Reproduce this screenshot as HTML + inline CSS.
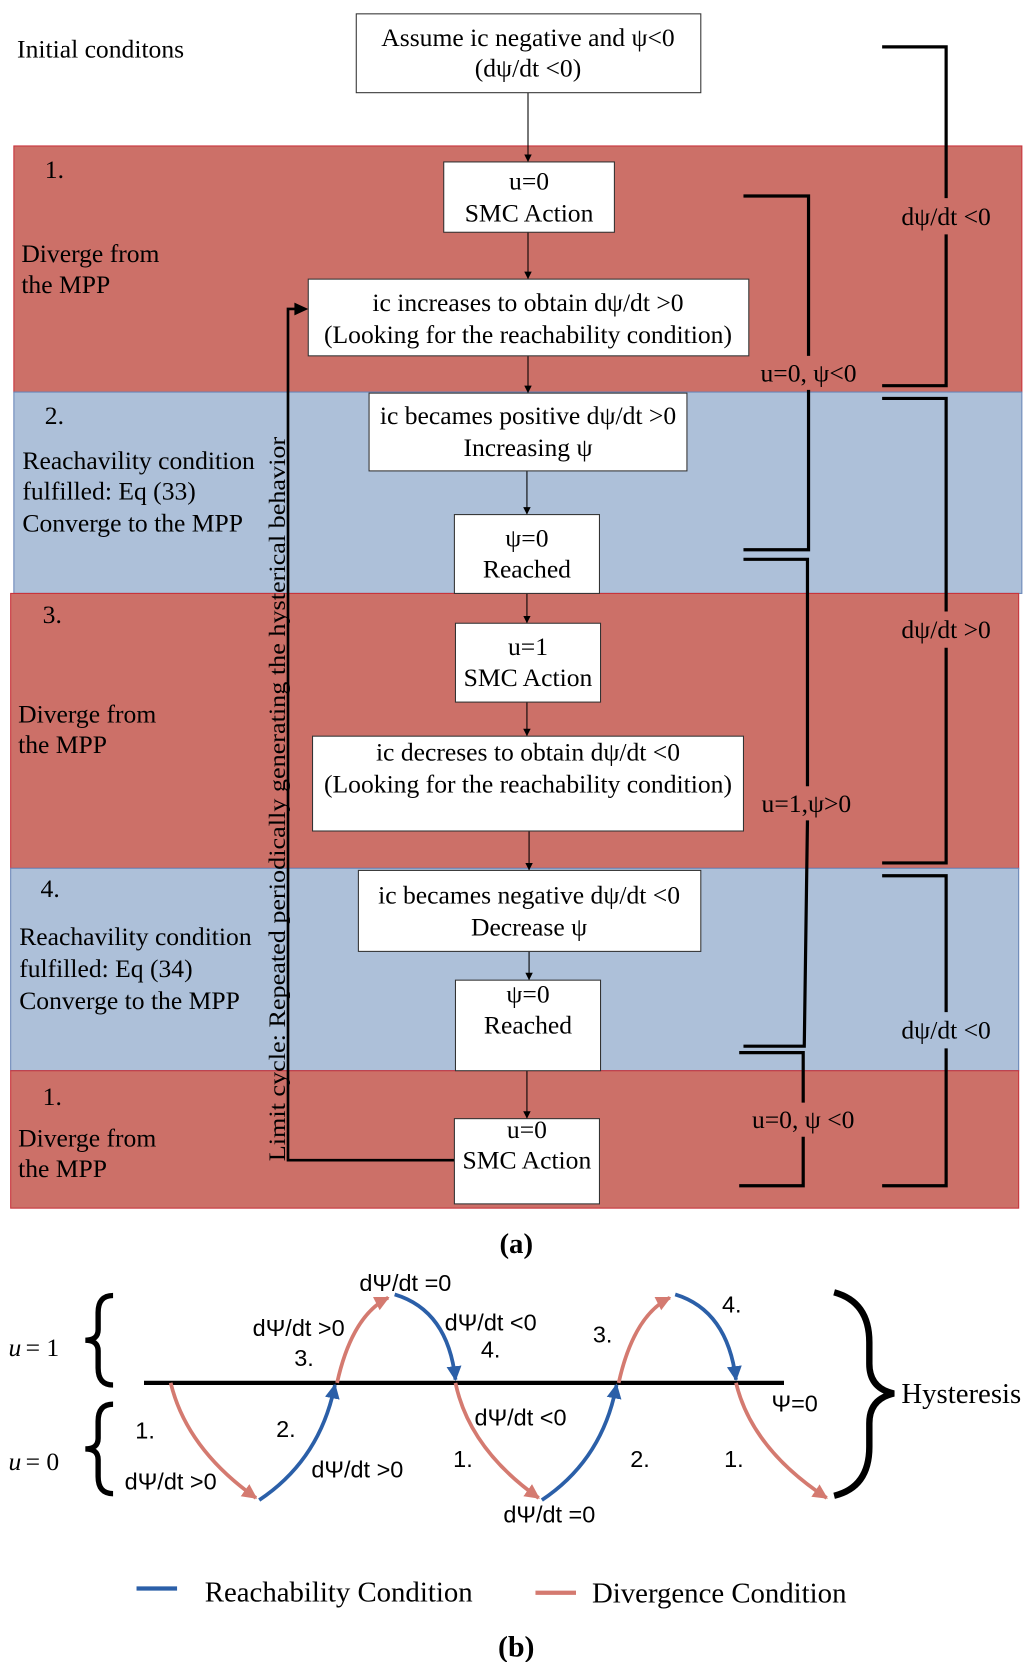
<!DOCTYPE html>
<html><head><meta charset="utf-8"><style>html,body{margin:0;padding:0;background:#fff}svg{display:block}</style></head><body>
<svg width="1024" height="1662" viewBox="0 0 960 1560" preserveAspectRatio="none" xmlns="http://www.w3.org/2000/svg" font-family="'Liberation Serif', serif">
<defs>
<marker id="ak" viewBox="0 0 10 10" refX="10" refY="5" markerWidth="7" markerHeight="9" orient="auto" markerUnits="userSpaceOnUse"><path d="M0,0L10,5L0,10z" fill="#000"/></marker>
<marker id="ab" viewBox="0 0 10 10" refX="9" refY="5" markerWidth="14" markerHeight="16" orient="auto" markerUnits="userSpaceOnUse"><path d="M0,0L10,5L0,10z" fill="#2b5fa8"/></marker>
<marker id="ar" viewBox="0 0 10 10" refX="9" refY="5" markerWidth="14" markerHeight="16" orient="auto" markerUnits="userSpaceOnUse"><path d="M0,0L10,5L0,10z" fill="#d47a70"/></marker>
</defs>
<rect x="13" y="137" width="945" height="231" fill="#cc7068" stroke="#c8323a" stroke-width="1"/>
<rect x="13" y="368" width="945" height="189" fill="#adc0d9" stroke="#6a86b8" stroke-width="1"/>
<rect x="10" y="557" width="945" height="258" fill="#cc7068" stroke="#c8323a" stroke-width="1"/>
<rect x="10" y="815" width="945" height="190" fill="#adc0d9" stroke="#6a86b8" stroke-width="1"/>
<rect x="10" y="1005" width="945" height="129" fill="#cc7068" stroke="#c8323a" stroke-width="1"/>

<g font-size="24" fill="#000">
<text x="16" y="54">Initial conditons</text>
<text x="42" y="167">1.</text>
<text x="20" y="246">Diverge from</text><text x="20" y="275">the MPP</text>
<text x="42" y="398">2.</text>
<text x="21" y="440">Reachavility condition</text><text x="21" y="469">fulfilled: Eq (33)</text><text x="21" y="499">Converge to the MPP</text>
<text x="40" y="585">3.</text>
<text x="17" y="678">Diverge from</text><text x="17" y="707">the MPP</text>
<text x="38" y="842">4.</text>
<text x="18" y="887">Reachavility condition</text><text x="18" y="917">fulfilled: Eq (34)</text><text x="18" y="947">Converge to the MPP</text>
<text x="40" y="1037">1.</text>
<text x="17" y="1076">Diverge from</text><text x="17" y="1105">the MPP</text>
</g>

<polyline points="426,1089 270,1089 270,290 284,290" fill="none" stroke="#000" stroke-width="2.5"/>
<path d="M289,290L276,284L276,296z" fill="#000"/>
<text transform="translate(267,1090) rotate(-90)" font-size="22" textLength="680" lengthAdjust="spacingAndGlyphs">Limit cycle: Repeated periodically generating the hysterical behavior</text>

<g stroke="#000" stroke-width="1" marker-end="url(#ak)">
<line x1="495" y1="87" x2="495" y2="152"/>
<line x1="495" y1="218" x2="495" y2="262"/>
<line x1="495" y1="334" x2="495" y2="369"/>
<line x1="494" y1="442" x2="494" y2="483"/>
<line x1="494" y1="557" x2="494" y2="585"/>
<line x1="494" y1="659" x2="494" y2="691"/>
<line x1="496" y1="780" x2="496" y2="817"/>
<line x1="496" y1="893" x2="496" y2="920"/>
<line x1="494" y1="1005" x2="494" y2="1050"/>
</g>

<g fill="#fff" stroke="#333" stroke-width="1">
<rect x="334" y="13" width="323" height="74"/>
<rect x="416" y="152" width="160" height="66"/>
<rect x="289" y="262" width="413" height="72"/>
<rect x="346" y="369" width="298" height="73"/>
<rect x="426" y="483" width="136" height="74"/>
<rect x="427" y="585" width="136" height="74"/>
<rect x="293" y="691" width="404" height="89"/>
<rect x="336" y="817" width="321" height="76"/>
<rect x="427" y="920" width="136" height="85"/>
<rect x="426" y="1050" width="136" height="80"/>
</g>
<g font-size="24" text-anchor="middle">
<text x="495" y="43">Assume ic negative and ψ&lt;0</text><text x="495" y="72">(dψ/dt &lt;0)</text>
<text x="496" y="178">u=0</text><text x="496" y="208">SMC Action</text>
<text x="495" y="292">ic increases to obtain dψ/dt &gt;0</text><text x="495" y="322">(Looking for the reachability condition)</text>
<text x="495" y="398">ic becames positive dψ/dt &gt;0</text><text x="495" y="428">Increasing ψ</text>
<text x="494" y="513">ψ=0</text><text x="494" y="542">Reached</text>
<text x="495" y="615">u=1</text><text x="495" y="644">SMC Action</text>
<text x="495" y="714">ic decreses to obtain dψ/dt &lt;0</text><text x="495" y="744">(Looking for the reachability condition)</text>
<text x="496" y="848">ic becames negative dψ/dt &lt;0</text><text x="496" y="878">Decrease ψ</text>
<text x="495" y="941">ψ=0</text><text x="495" y="970">Reached</text>
<text x="494" y="1068">u=0</text><text x="494" y="1097">SMC Action</text>
</g>

<g fill="none" stroke="#000" stroke-width="3">
<polyline points="827,44 887,44 887,186"/><polyline points="887,220 887,362 827,362"/>
<polyline points="827,374 887,374 887,574"/><polyline points="887,608 887,810 827,810"/>
<polyline points="827,822 887,822 887,950"/><polyline points="887,984 887,1113 827,1113"/>
<polyline points="697,184 758,184 758,334"/><polyline points="758,366 758,516 697,516"/>
<polyline points="697,525 757,525 757,738"/><polyline points="757,770 754,982 697,982"/>
<polyline points="693,988 753,988 753,1035"/><polyline points="753,1067 753,1113 693,1113"/>
</g>
<g font-size="24" text-anchor="middle">
<text x="887" y="211">dψ/dt &lt;0</text>
<text x="887" y="599">dψ/dt &gt;0</text>
<text x="887" y="975">dψ/dt &lt;0</text>
<text x="758" y="358">u=0, ψ&lt;0</text>
<text x="756" y="762">u=1,ψ&gt;0</text>
<text x="753" y="1059">u=0, ψ &lt;0</text>
</g>
<text x="484" y="1176" font-size="27" font-weight="bold" text-anchor="middle">(a)</text>

<line x1="135" y1="1298" x2="735" y2="1298" stroke="#000" stroke-width="4"/>
<g fill="none" stroke-width="3.5">
<path d="M160,1298 Q175,1360 240,1406" stroke="#d47a70" marker-end="url(#ar)"/>
<path d="M243,1408 Q300,1370 314,1300" stroke="#2b5fa8" marker-end="url(#ab)"/>
<path d="M316,1298 Q330,1235 364,1218" stroke="#d47a70" marker-end="url(#ar)"/>
<path d="M370,1215 Q420,1230 427,1295" stroke="#2b5fa8" marker-end="url(#ab)"/>
<path d="M427,1298 Q440,1360 505,1406" stroke="#d47a70" marker-end="url(#ar)"/>
<path d="M508,1408 Q565,1370 578,1300" stroke="#2b5fa8" marker-end="url(#ab)"/>
<path d="M580,1298 Q594,1235 628,1218" stroke="#d47a70" marker-end="url(#ar)"/>
<path d="M633,1215 Q682,1230 690,1295" stroke="#2b5fa8" marker-end="url(#ab)"/>
<path d="M690,1298 Q705,1360 775,1406" stroke="#d47a70" marker-end="url(#ar)"/>
</g>
<g font-family="'Liberation Sans', sans-serif" font-size="22" text-anchor="middle">
<text x="380" y="1212">dΨ/dt =0</text>
<text x="280" y="1254">dΨ/dt &gt;0</text><text x="285" y="1282">3.</text>
<text x="460" y="1249">dΨ/dt &lt;0</text><text x="460" y="1274">4.</text>
<text x="565" y="1260">3.</text><text x="686" y="1232">4.</text>
<text x="745" y="1325">Ψ=0</text>
<text x="136" y="1350">1.</text><text x="268" y="1349">2.</text>
<text x="488" y="1338">dΨ/dt &lt;0</text>
<text x="160" y="1398">dΨ/dt &gt;0</text><text x="335" y="1387">dΨ/dt &gt;0</text>
<text x="434" y="1377">1.</text><text x="600" y="1377">2.</text><text x="688" y="1377">1.</text>
<text x="515" y="1429">dΨ/dt =0</text>
</g>
<g font-size="24">
<text x="8" y="1273" font-style="italic">u</text><text x="24" y="1273">= 1</text>
<text x="8" y="1380" font-style="italic">u</text><text x="24" y="1380">= 0</text>
</g>
<g fill="none" stroke="#000" stroke-width="5">
<path d="M106,1216 Q92,1216 92,1232 L92,1248 Q92,1258 80,1258 Q92,1258 92,1268 L92,1284 Q92,1300 106,1300"/>
<path d="M106,1318 Q92,1318 92,1334 L92,1350 Q92,1360 80,1360 Q92,1360 92,1370 L92,1386 Q92,1402 106,1402"/>
<path d="M782,1213 Q815,1222 815,1260 L815,1280 Q815,1303 838,1308 Q815,1313 815,1336 L815,1358 Q815,1396 782,1404" stroke-width="6"/>
</g>
<text x="845" y="1317" font-size="27">Hysteresis</text>
<line x1="128" y1="1491" x2="166" y2="1491" stroke="#2b5fa8" stroke-width="4"/>
<text x="192" y="1503" font-size="27">Reachability Condition</text>
<line x1="502" y1="1495" x2="540" y2="1495" stroke="#d47a70" stroke-width="4"/>
<text x="555" y="1504" font-size="27">Divergence Condition</text>
<text x="484" y="1555" font-size="28" font-weight="bold" text-anchor="middle">(b)</text>
</svg>
</body></html>
